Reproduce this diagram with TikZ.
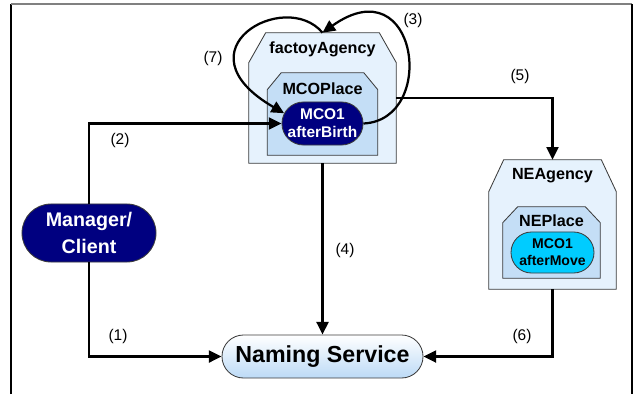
\documentclass[tikz,border=0pt]{standalone}
\usepackage{fontspec}
\setmainfont{Liberation Sans}
\usepackage{xcolor}
\usetikzlibrary{shapes.misc, arrows.meta, positioning}

\definecolor{agencyfill}{HTML}{E6F2FD}
\definecolor{placefill}{HTML}{C4DEF6}
\definecolor{mconavy}{HTML}{000080}
\definecolor{mcocyan}{HTML}{00CCFF}
\definecolor{nsblue}{HTML}{BCDAF6}
\definecolor{linegray}{HTML}{3C3C3C}

% outline with cut top corners round a named box: node, x cut, y cut, fill
\newcommand{\chamferbox}[4]{%
  \filldraw[draw=linegray, fill=#4, line width=0.6pt] (#1.south west) -- ([yshift=-#3]#1.north west)
    -- ([xshift=#2]#1.north west) -- ([xshift=-#2]#1.north east)
    -- ([yshift=-#3]#1.north east) -- (#1.south east) -- cycle;}

\begin{document}
\begin{tikzpicture}[
    x=0.025cm, y=-0.025cm,
    box/.style={rectangle, inner sep=0pt},
    title/.style={anchor=base, inner sep=0pt, font=\fontsize{11.5}{13}\selectfont\bfseries},
    mco/.style={draw=linegray, line width=0.6pt, rounded rectangle, inner sep=0pt, align=center},
    num/.style={inner sep=0pt, font=\fontsize{11}{13}\selectfont},
    arrow/.style={-{Triangle[length=9pt, width=8.5pt]}, line width=1.6pt},
]
\useasboundingbox (0,0) rectangle (635,394);

% Frame
\draw[black, line width=0.8pt] (11,394) -- (11,4);
\draw[gray, line width=0.8pt] (11,4) -- (632,4);
\draw[black, line width=0.8pt] (632,4) -- (632,394);

% === FACTORY AGENCY ===
\node[box, minimum width=3.675cm, minimum height=3.25cm] (fac) at (322.5, 98) {};
\chamferbox{fac}{0.425cm}{0.75cm}{agencyfill}
\node[title] (fac_lbl) at (322.5, 54) {factoyAgency};

% MCOPlace
\node[box, minimum width=2.75cm, minimum height=2.05cm] (mco_place) at (322.5, 114) {};
\chamferbox{mco_place}{0.35cm}{0.425cm}{placefill}
\node[title] (mco_place_lbl) at (322.5, 94) {MCOPlace};

% MCO1 afterBirth
\node[mco, fill=mconavy, text=white, minimum width=1.925cm, minimum height=1.075cm,
      font=\fontsize{11}{13}\selectfont\bfseries] (mco_birth) at (322.5, 123.5) {MCO1\\afterBirth};

% === NE AGENCY ===
\node[box, minimum width=3.175cm, minimum height=3.225cm] (ne) at (552.5, 224.5) {};
\chamferbox{ne}{0.375cm}{0.8cm}{agencyfill}
\node[title] (ne_lbl) at (552.5, 179) {NEAgency};

% NEPlace
\node[box, minimum width=2.425cm, minimum height=1.775cm] (ne_place) at (551.5, 242.5) {};
\chamferbox{ne_place}{0.375cm}{0.4cm}{placefill}
\node[title] (ne_place_lbl) at (551.5, 226) {NEPlace};

% MCO1 afterMove
\node[mco, fill=mcocyan, minimum width=2.075cm, minimum height=1.025cm,
      font=\fontsize{10}{12}\selectfont\bfseries] (mco_move) at (552.5, 252.5) {MCO1\\afterMove};

% === MANAGER / CLIENT ===
\node[mco, fill=mconavy, text=white, minimum width=3.35cm, minimum height=1.45cm,
      font=\fontsize{14}{19}\selectfont\bfseries] (mgr) at (89, 233) {Manager/\\Client};

% === NAMING SERVICE ===
\node[mco, top color=white, bottom color=nsblue, minimum width=5.025cm, minimum height=1.075cm,
      font=\fontsize{16.5}{18}\selectfont\bfseries] (ns) at (322.5, 356.5) {Naming Service};

% Connections
\draw[arrow] (mgr.south) |- (ns.west);
\draw[arrow] (mgr.north) |- (mco_birth.west);
\draw[arrow] (mco_birth.east) .. controls (438,120) and (418,-35) .. (fac.north);
\draw[arrow] (fac.south) -- (ns.north);
\draw[arrow] (fac.east) -| (ne.north);
\draw[arrow] (ne.south) |- (ns.east);
\draw[arrow] (fac.north) .. controls (285,-12) and (175,50) .. (mco_birth.165);

% Step numbers
\node[num] (n1) at (118, 336) {(1)};
\node[num] (n2) at (120, 140) {(2)};
\node[num] (n3) at (413, 20) {(3)};
\node[num] (n4) at (345, 250) {(4)};
\node[num] (n5) at (520, 76) {(5)};
\node[num] (n6) at (522, 336) {(6)};
\node[num] (n7) at (213, 58) {(7)};

\end{tikzpicture}
\end{document}
